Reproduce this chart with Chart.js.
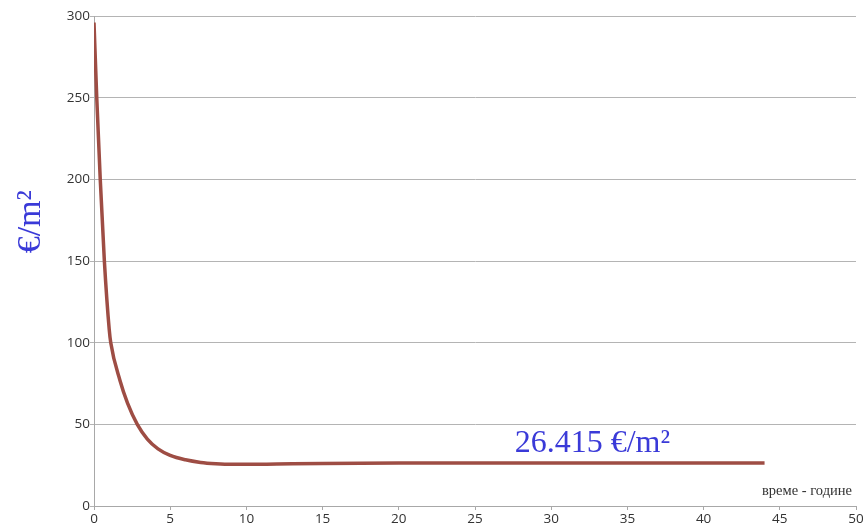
<html>
    <head>
        <title>Цена по m2 во време</title>
        <script src="https://cdn.jsdelivr.net/npm/chart.js@4.4.1/dist/chart.umd.min.js"></script>
        <style>
            html, body { margin: 0; padding: 0; background: #fff; }
            .chart-container { position: relative; width: 866px; height: 527px; }
        </style>
    </head>
    <body>
        <div class="chart-container">
            <canvas id="myChart"></canvas>
        </div>
        <script>
            // years and price per m2
            const years  = [0, 0.18, 0.41, 0.68, 1.0, 1.1, 1.7, 2.2, 2.84, 3.5, 4.2, 5, 6, 7, 8, 9, 10, 12, 15, 20, 25, 30, 35, 40, 44];
            const prices = [296, 250, 200, 150, 108, 100, 77, 63, 50, 41, 35, 31, 28.3, 26.7, 25.9, 25.5, 25.5, 25.7, 26.0, 26.3, 26.4, 26.4, 26.4, 26.4, 26.4];
            const xTicks = [0, 5, 10, 15, 20, 25, 30, 35, 40, 45, 50];
            const yTicks = [0, 50, 100, 150, 200, 250, 300];
            const yTitle = '€/m²';
            const xTitle = 'време - године';
            const finalLabel = '26.415 €/m²';

            const blue = '#3a3ad8';

            // text that Chart.js puts nowhere by itself
            const textPlugin = {
                id: 'texts',
                afterDraw(chart) {
                    const ctx = chart.ctx;
                    const x = chart.scales.x, y = chart.scales.y;
                    ctx.save();
                    // y title
                    ctx.fillStyle = blue;
                    ctx.font = '34px "Liberation Serif", "DejaVu Serif", serif';
                    ctx.textAlign = 'center';
                    ctx.textBaseline = 'middle';
                    ctx.translate(31, y.getPixelForValue(174));
                    ctx.rotate(-Math.PI / 2);
                    ctx.fillText(yTitle, 0, 0);
                    ctx.restore();

                    ctx.save();
                    ctx.fillStyle = blue;
                    ctx.font = '32px "Liberation Serif", "DejaVu Serif", serif';
                    ctx.textAlign = 'center';
                    ctx.textBaseline = 'middle';
                    ctx.fillText(finalLabel, x.getPixelForValue(32.7), y.getPixelForValue(38.5));

                    ctx.fillStyle = '#333';
                    ctx.font = '14.5px "Liberation Serif", "DejaVu Serif", serif';
                    ctx.textAlign = 'right';
                    ctx.fillText(xTitle, chart.chartArea.right - 4, y.getPixelForValue(9));
                    ctx.restore();
                }
            };

            const ctx = document.getElementById('myChart').getContext('2d');
            const chart = new Chart(ctx, {
                type: 'line',
                data: {
                    datasets: [{
                        data: years.map((v, i) => ({ x: v, y: prices[i] })),
                        borderColor: '#9e4d44',
                        borderWidth: 3.5,
                        pointRadius: 0,
                        cubicInterpolationMode: 'monotone',
                        fill: false
                    }]
                },
                options: {
                    responsive: true,
                    maintainAspectRatio: false,
                    animation: false,
                    layout: { padding: { top: 16, right: 10, left: 0, bottom: 0 } },
                    plugins: { legend: { display: false }, tooltip: { enabled: false } },
                    scales: {
                        x: {
                            type: 'linear',
                            min: 0,
                            max: 50,
                            afterBuildTicks(scale) { scale.ticks = xTicks.map(v => ({ value: v })); },
                            afterFit(scale) { scale.height = 21; },
                            grid: { drawOnChartArea: false, drawTicks: true, tickLength: 4, color: '#a8a8a8' },
                            border: { color: '#a8a8a8' },
                            ticks: { color: '#333', padding: 1, maxRotation: 0, font: { family: '"Open Sans", "Noto Sans", sans-serif', size: 13.5 } }
                        },
                        y: {
                            min: 0,
                            max: 300,
                            afterBuildTicks(scale) { scale.ticks = yTicks.map(v => ({ value: v })); },
                            afterFit(scale) { scale.width = 94; },
                            grid: { drawTicks: true, tickLength: 4, color: '#b4b4b4' },
                            border: { color: '#a8a8a8' },
                            ticks: { color: '#333', padding: 0, font: { family: '"Open Sans", "Noto Sans", sans-serif', size: 13.5 } }
                        }
                    }
                },
                plugins: [textPlugin]
            });
        </script>
    </body>
</html>
